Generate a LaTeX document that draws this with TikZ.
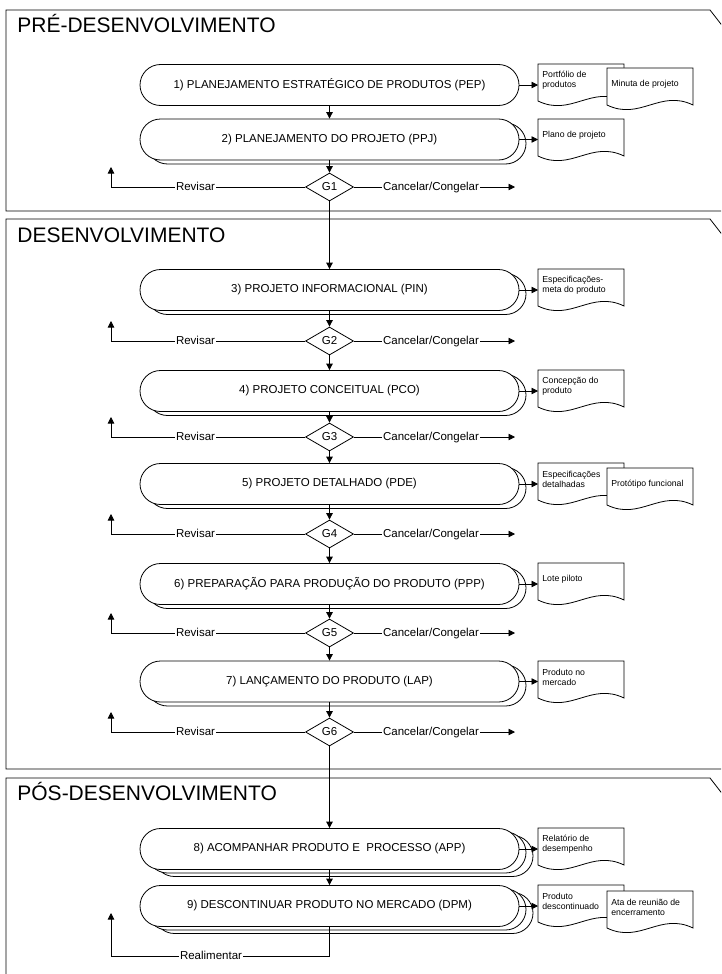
\documentclass[tikz,border=0pt]{standalone}
\usepackage{fontspec}
\setmainfont{Liberation Sans}
\usetikzlibrary{arrows.meta,shapes.misc,shapes.geometric,shadows,calc}

% document sheet with a wavy lower edge: name, left x, top y, text
\newcommand\docsheet[4]{%
  \draw[fill=white] (#2,#3) -- (#2+86,#3) -- (#2+86,#3+37)
    .. controls (#2+53,#3+21) and (#2+33,#3+53) .. (#2,#3+37) -- cycle;
  \node[doctext, anchor=west] (#1) at (#2,#3+16) {#4};
}

\begin{document}
\begin{tikzpicture}[x=1pt,y=-1pt,
  line width=0.8pt,
  arr/.style={-{Triangle[length=6.5pt,width=6.5pt]}},
  stage/.style={rounded rectangle, draw, fill=white, minimum width=379pt,
    minimum height=41pt, inner sep=0pt, font=\fontsize{11.5}{13}\selectfont},
  one copy/.style={general shadow={shadow xshift=7pt,shadow yshift=-4pt,
    draw=black,fill=white}},
  two copies/.style={
    general shadow={shadow xshift=14pt,shadow yshift=-7pt,draw=black,fill=white},
    general shadow={shadow xshift=7pt,shadow yshift=-3.5pt,draw=black,fill=white}},
  gate/.style={diamond, draw, fill=white, minimum width=48pt,
    minimum height=28pt, inner sep=0pt, font=\fontsize{11.5}{13}\selectfont},
  lbl/.style={fill=white, anchor=base, inner xsep=1pt, inner ysep=0.5pt,
    text height=8.5pt, text depth=2.5pt, font=\fontsize{11.5}{13}\selectfont},
  doctext/.style={align=left, inner xsep=4pt, inner ysep=0pt,
    font=\fontsize{8.7}{10}\selectfont},
  phase/.style={anchor=base west, inner sep=0pt, font=\fontsize{21}{24}\selectfont}
]
\useasboundingbox (0,0) rectangle (721,974);
\clip (0,0) rectangle (721,974);

% phase frames
\draw (721,211) -- (6,211) -- (6,10) -- (710,10) -- (724,28);
\draw (721,769) -- (6,769) -- (6,219) -- (710,219) -- (724,237);
\draw (6,990) -- (6,778) -- (710,778) -- (724,796);

\node[phase] (p1) at (17,33) {PRÉ-DESENVOLVIMENTO};
\node[phase] (p2) at (17,242) {DESENVOLVIMENTO};
\node[phase] (p3) at (17,800) {PÓS-DESENVOLVIMENTO};

% stages
\node[stage] (b1) at (329.5,85) {1) PLANEJAMENTO ESTRATÉGICO DE PRODUTOS (PEP)};
\node[stage, one copy] (b2) at (329.5,139.5) {2) PLANEJAMENTO DO PROJETO (PPJ)};
\node[stage, one copy] (b3) at (329.5,290) {3) PROJETO INFORMACIONAL (PIN)};
\node[stage, one copy] (b4) at (329.5,391) {4) PROJETO CONCEITUAL (PCO)};
\node[stage, one copy] (b5) at (329.5,484) {5) PROJETO DETALHADO (PDE)};
\node[stage, one copy] (b6) at (329.5,584) {6) PREPARAÇÃO PARA PRODUÇÃO DO PRODUTO (PPP)};
\node[stage, one copy] (b7) at (329.5,681.5) {7) LANÇAMENTO DO PRODUTO (LAP)};
\node[stage, two copies] (b8) at (329.5,849) {8) ACOMPANHAR PRODUTO E\ \ PROCESSO (APP)};
\node[stage, two copies] (b9) at (329.5,906) {9) DESCONTINUAR PRODUTO NO MERCADO (DPM)};

% gates
\node[gate] (g1) at (329.5,187) {G1};
\node[gate] (g2) at (329.5,341) {G2};
\node[gate] (g3) at (329.5,437) {G3};
\node[gate] (g4) at (329.5,534) {G4};
\node[gate] (g5) at (329.5,633) {G5};
\node[gate] (g6) at (329.5,732) {G6};

% main flow
\draw[arr] (b1.south) -- (b2.north);
\draw[arr] (b2.south) -- (g1.north);
\draw[arr] (g1.south) -- (b3.north);
\draw[arr] (b3.south) -- (g2.north);
\draw[arr] (g2.south) -- (b4.north);
\draw[arr] (b4.south) -- (g3.north);
\draw[arr] (g3.south) -- (b5.north);
\draw[arr] (b5.south) -- (g4.north);
\draw[arr] (g4.south) -- (b6.north);
\draw[arr] (b6.south) -- (g5.north);
\draw[arr] (g5.south) -- (b7.north);
\draw[arr] (b7.south) -- (g6.north);
\draw[arr] (g6.south) -- (b8.north);
\draw[arr] (b8.south) -- (b9.north);

% gate decisions: revise (left) and cancel/freeze (right)
\foreach \g/\y in {g1/187,g2/341,g3/437,g4/534,g5/633,g6/732}{
  \coordinate (\g-rev) at (111,\y-20);
  \coordinate (\g-can) at (515,\y);
  \draw[arr] (\g.west) -| (\g-rev);
  \draw[arr] (\g.east) -- (\g-can);
  \node[lbl] (\g-revlbl) at (195.5,\y+3.5) {Revisar};
  \node[lbl] (\g-canlbl) at (431,\y+3.5) {Cancelar/Congelar};
}

% feedback from the last stage
\coordinate (fb) at (111,913);
\draw[arr] (b9.south) -- ++(0,29) -| (fb);
\node[lbl] (fblbl) at (211,959.5) {Realimentar};

% deliverables
\docsheet{d1a}{538}{64}{Portfólio de\\produtos}
\docsheet{d1b}{607}{68}{Minuta de projeto}
\docsheet{d2}{538}{119}{Plano de projeto}
\docsheet{d3}{538}{269}{Especificações-\\meta do produto}
\docsheet{d4}{538}{370}{Concepção do\\produto}
\docsheet{d5a}{538}{463}{Especificações\\detalhadas}
\docsheet{d5b}{607}{468}{Protótipo funcional}
\docsheet{d6}{538}{563}{Lote piloto}
\docsheet{d7}{538}{661}{Produto no\\mercado}
\docsheet{d8}{538}{828}{Relatório de\\desempenho}
\docsheet{d9a}{538}{885}{Produto\\descontinuado}
\docsheet{d9b}{607}{891}{Ata de reunião de\\encerramento}

\draw[arr] (b1.east) -- (b1.east -| d1a.west);
\draw[arr] (b2.east) -- (b2.east -| d2.west);
\draw[arr] (b3.east) -- (b3.east -| d3.west);
\draw[arr] (b4.east) -- (b4.east -| d4.west);
\draw[arr] (b5.east) -- (b5.east -| d5a.west);
\draw[arr] (b6.east) -- (b6.east -| d6.west);
\draw[arr] (b7.east) -- (b7.east -| d7.west);
\draw[arr] (b8.east) -- (b8.east -| d8.west);
\draw[arr] (b9.east) -- (b9.east -| d9a.west);
\end{tikzpicture}
\end{document}
